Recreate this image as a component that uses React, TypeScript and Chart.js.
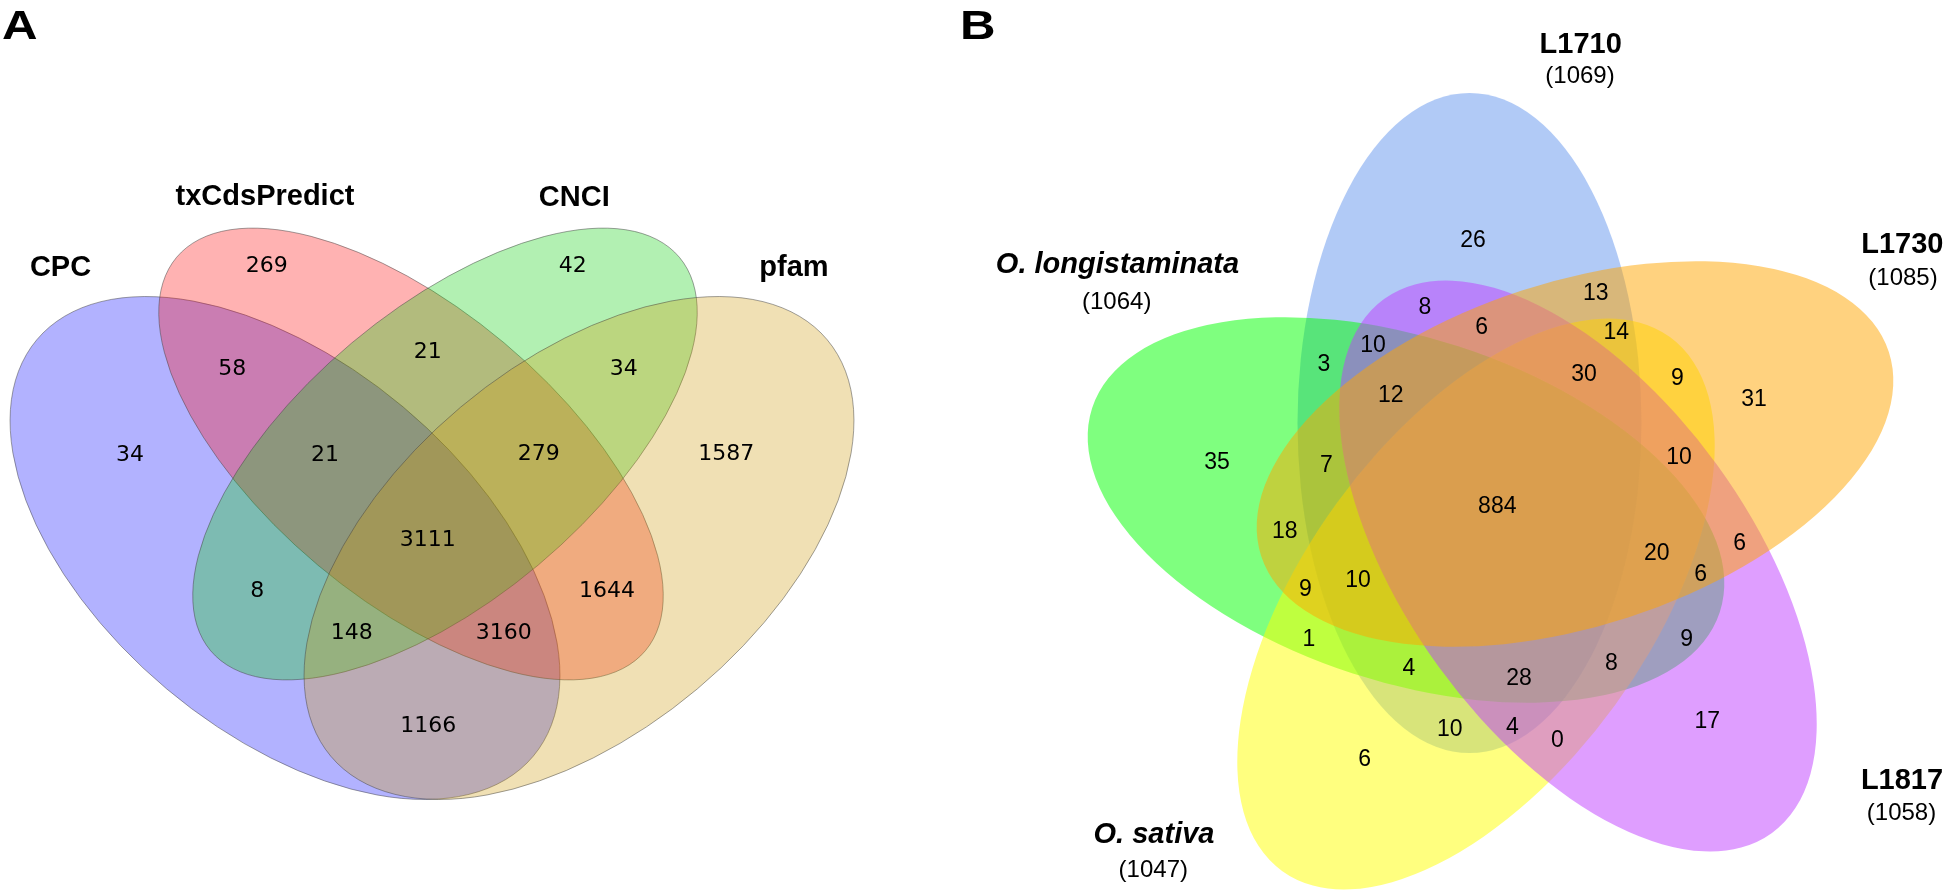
import React, { useEffect, useRef } from "react";
import { Chart, registerables } from "chart.js";

Chart.register(...registerables);

const CANVAS_W = 1946;
const CANVAS_H = 893;

// ---------- Panel A data ----------
const panelLetters = ["A", "B"];
const setNamesA = ["CPC", "txCdsPredict", "CNCI", "pfam"];
const regionCountsA = [269, 42, 58, 21, 34, 34, 21, 279, 1587, 3111, 8, 1644, 148, 3160, 1166];

// ---------- Panel B data ----------
const setNamesB = ["L1710", "L1730", "L1817", "O. sativa", "O. longistaminata"];
const setTotalsB = [1069, 1085, 1058, 1047, 1064];
const regionCountsB = [
  26, 8, 13, 6, 14, 10, 3, 30, 9, 12, 31, 35, 7, 10, 884, 18, 6, 20, 6, 10, 9, 1, 9, 8, 4, 28, 17, 4, 10, 0, 6,
];

// ---------- Layout (positions in reference pixel units, mapped through the scales) ----------
const regionXA = [266.7, 572.7, 232.3, 427.7, 623.7, 130, 325, 538.7, 726.3, 427.7, 257.3, 607, 351.7, 503.7, 428.3];
const regionYA = [266.7, 266.7, 369.3, 352.7, 369.3, 455.3, 455.3, 454.3, 454.3, 540, 591, 591, 633.3, 633.3, 726.7];

const regionXB = [
  1473, 1425, 1595.7, 1481.7, 1616.3, 1373, 1324, 1584, 1677.3, 1390.7, 1754, 1217, 1326.3, 1679, 1497.3, 1284.7,
  1739.7, 1656.7, 1700.7, 1358, 1305.3, 1309, 1686.7, 1611.3, 1409, 1519, 1707.3, 1512.3, 1449.7, 1557.3, 1364.7,
];
const regionYB = [
  241, 307.3, 294, 327.3, 332.7, 346, 365, 375, 378.3, 396, 400, 462.7, 466, 457.7, 506.7, 532, 543.3, 553.3, 574.3,
  581, 590, 639.3, 639.3, 663.3, 668.7, 678.3, 722, 727.7, 730, 741, 760,
];

const setLabelXA = [60.5, 265, 574.3, 794];
const setLabelYA = [276, 205, 206, 276];

const setLabelXB = [1580.7, 1902.3, 1902, 1154, 1117.5];
const setLabelYB = [52.7, 253.3, 789.3, 842.7, 272.7];
const setTotalXB = [1580, 1903, 1901.5, 1153.3, 1116.7];
const setTotalYB = [76, 278.3, 813.3, 870, 302.3];
const italicB = [false, false, false, true, true];

const panelLetterX = [2, 960];
const panelLetterY = [39, 39];

// Ellipse geometry (center x, center y, semi-major, semi-minor, rotation in degrees)
const ellipsesA = [
  { cx: 285, cy: 548, a: 324, b: 184, rot: 40, fill: "rgba(0,0,255,0.3)" },
  { cx: 411, cy: 454, a: 306, b: 145, rot: 40, fill: "rgba(255,0,0,0.3)" },
  { cx: 445, cy: 454, a: 306, b: 145, rot: -40, fill: "rgba(0,205,0,0.3)" },
  { cx: 579, cy: 548, a: 324, b: 184, rot: -40, fill: "rgba(205,153,5,0.3)" },
];
// order drawn: L1710, O. longistaminata, O. sativa, L1817, L1730
const ellipsesB = [
  { cx: 1469.5, cy: 423, a: 330, b: 172, rot: 90, fill: "rgba(100,149,237,0.5)" },
  { cx: 1406, cy: 510, a: 330, b: 172, rot: 18, fill: "rgba(0,255,0,0.5)" },
  { cx: 1476, cy: 604, a: 330, b: 172, rot: -54, fill: "rgba(255,255,0,0.5)" },
  { cx: 1578, cy: 566, a: 330, b: 172, rot: 54, fill: "rgba(191,62,255,0.5)" },
  { cx: 1575, cy: 454, a: 330, b: 172, rot: -18, fill: "rgba(255,165,0,0.5)" },
];

const vennPlugin = {
  id: "vennShapes",
  beforeDatasetsDraw(chart: any) {
    const { ctx } = chart;
    const xs = chart.scales.x;
    const ys = chart.scales.y;
    const len = (v: number) => Math.abs(xs.getPixelForValue(v) - xs.getPixelForValue(0));
    const drawSet = (list: any[], stroke: boolean) => {
      list.forEach((e) => {
        ctx.save();
        ctx.beginPath();
        ctx.ellipse(
          xs.getPixelForValue(e.cx),
          ys.getPixelForValue(e.cy),
          len(e.a),
          len(e.b),
          (e.rot * Math.PI) / 180,
          0,
          Math.PI * 2
        );
        ctx.fillStyle = e.fill;
        ctx.fill();
        if (stroke) {
          ctx.lineWidth = 1;
          ctx.strokeStyle = "rgba(70,70,70,0.5)";
          ctx.stroke();
        }
        ctx.restore();
      });
    };
    drawSet(ellipsesA, true);
    drawSet(ellipsesB, false);
  },
  afterDatasetsDraw(chart: any) {
    const { ctx } = chart;
    const xs = chart.scales.x;
    const ys = chart.scales.y;
    chart.data.datasets.forEach((ds: any, di: number) => {
      const meta = chart.getDatasetMeta(di);
      ctx.save();
      ctx.fillStyle = "#000";
      ctx.font = ds.textFont;
      ctx.textAlign = ds.textAlign || "center";
      ctx.textBaseline = ds.textBaseline || "middle";
      meta.data.forEach((pt: any, i: number) => {
        if (ds.italicFont && ds.italic && ds.italic[i]) ctx.font = ds.italicFont;
        else ctx.font = ds.textFont;
        ctx.fillText(String(ds.texts[i]), pt.x, pt.y);
      });
      ctx.restore();
    });
    // panel letters (slightly wide, heavy face as in the reference)
    panelLetters.forEach((l, i) => {
      ctx.save();
      ctx.fillStyle = "#000";
      ctx.font = "bold 41px 'Liberation Sans', Arial, sans-serif";
      ctx.textAlign = "left";
      ctx.textBaseline = "alphabetic";
      ctx.translate(xs.getPixelForValue(panelLetterX[i]), ys.getPixelForValue(panelLetterY[i]));
      ctx.scale(1.2, 1);
      ctx.fillText(l, 0, 0);
      ctx.restore();
    });
  },
};

function pts(xsArr: number[], ysArr: number[]) {
  return xsArr.map((x, i) => ({ x, y: ysArr[i] }));
}

export default function App() {
  const ref = useRef<HTMLCanvasElement | null>(null);
  useEffect(() => {
    document.body.style.margin = "0";
    const canvas = ref.current;
    if (!canvas) return;
    const hidden = { radius: 0, hoverRadius: 0, hitRadius: 0 };
    const chart = new Chart(canvas, {
      type: "scatter",
      data: {
        datasets: [
          {
            label: "A regions",
            data: pts(regionXA, regionYA),
            texts: regionCountsA,
            textFont: "22px 'DejaVu Sans', Verdana, sans-serif",
            pointRadius: 0,
          } as any,
          {
            label: "B regions",
            data: pts(regionXB, regionYB),
            texts: regionCountsB,
            textFont: "23px 'Liberation Sans', Arial, sans-serif",
            pointRadius: 0,
          } as any,
          {
            label: "A sets",
            data: pts(setLabelXA, setLabelYA),
            texts: setNamesA,
            textFont: "bold 29px 'Liberation Sans', Arial, sans-serif",
            textBaseline: "alphabetic",
            pointRadius: 0,
          } as any,
          {
            label: "B sets",
            data: pts(setLabelXB, setLabelYB),
            texts: setNamesB,
            italic: italicB,
            textFont: "bold 29px 'Liberation Sans', Arial, sans-serif",
            italicFont: "italic bold 29px 'Liberation Sans', Arial, sans-serif",
            textBaseline: "alphabetic",
            pointRadius: 0,
          } as any,
          {
            label: "B totals",
            data: pts(setTotalXB, setTotalYB),
            texts: setTotalsB.map((t) => "(" + t + ")"),
            textFont: "24px 'Liberation Sans', Arial, sans-serif",
            pointRadius: 0,
          } as any,
        ],
      },
      options: {
        responsive: false,
        animation: false,
        devicePixelRatio: 1,
        layout: { padding: 0 },
        elements: { point: hidden as any },
        plugins: {
          legend: { display: false },
          tooltip: { enabled: false },
          title: { display: false },
        },
        events: [],
        scales: {
          x: { type: "linear", min: 0, max: CANVAS_W, display: false },
          y: { type: "linear", min: 0, max: CANVAS_H, reverse: true, display: false },
        },
      },
      plugins: [vennPlugin],
    });
    return () => chart.destroy();
  }, []);

  return (
    <div style={{ width: CANVAS_W, height: CANVAS_H, background: "#fff" }}>
      <canvas ref={ref} width={CANVAS_W} height={CANVAS_H} style={{ display: "block" }} />
    </div>
  );
}
